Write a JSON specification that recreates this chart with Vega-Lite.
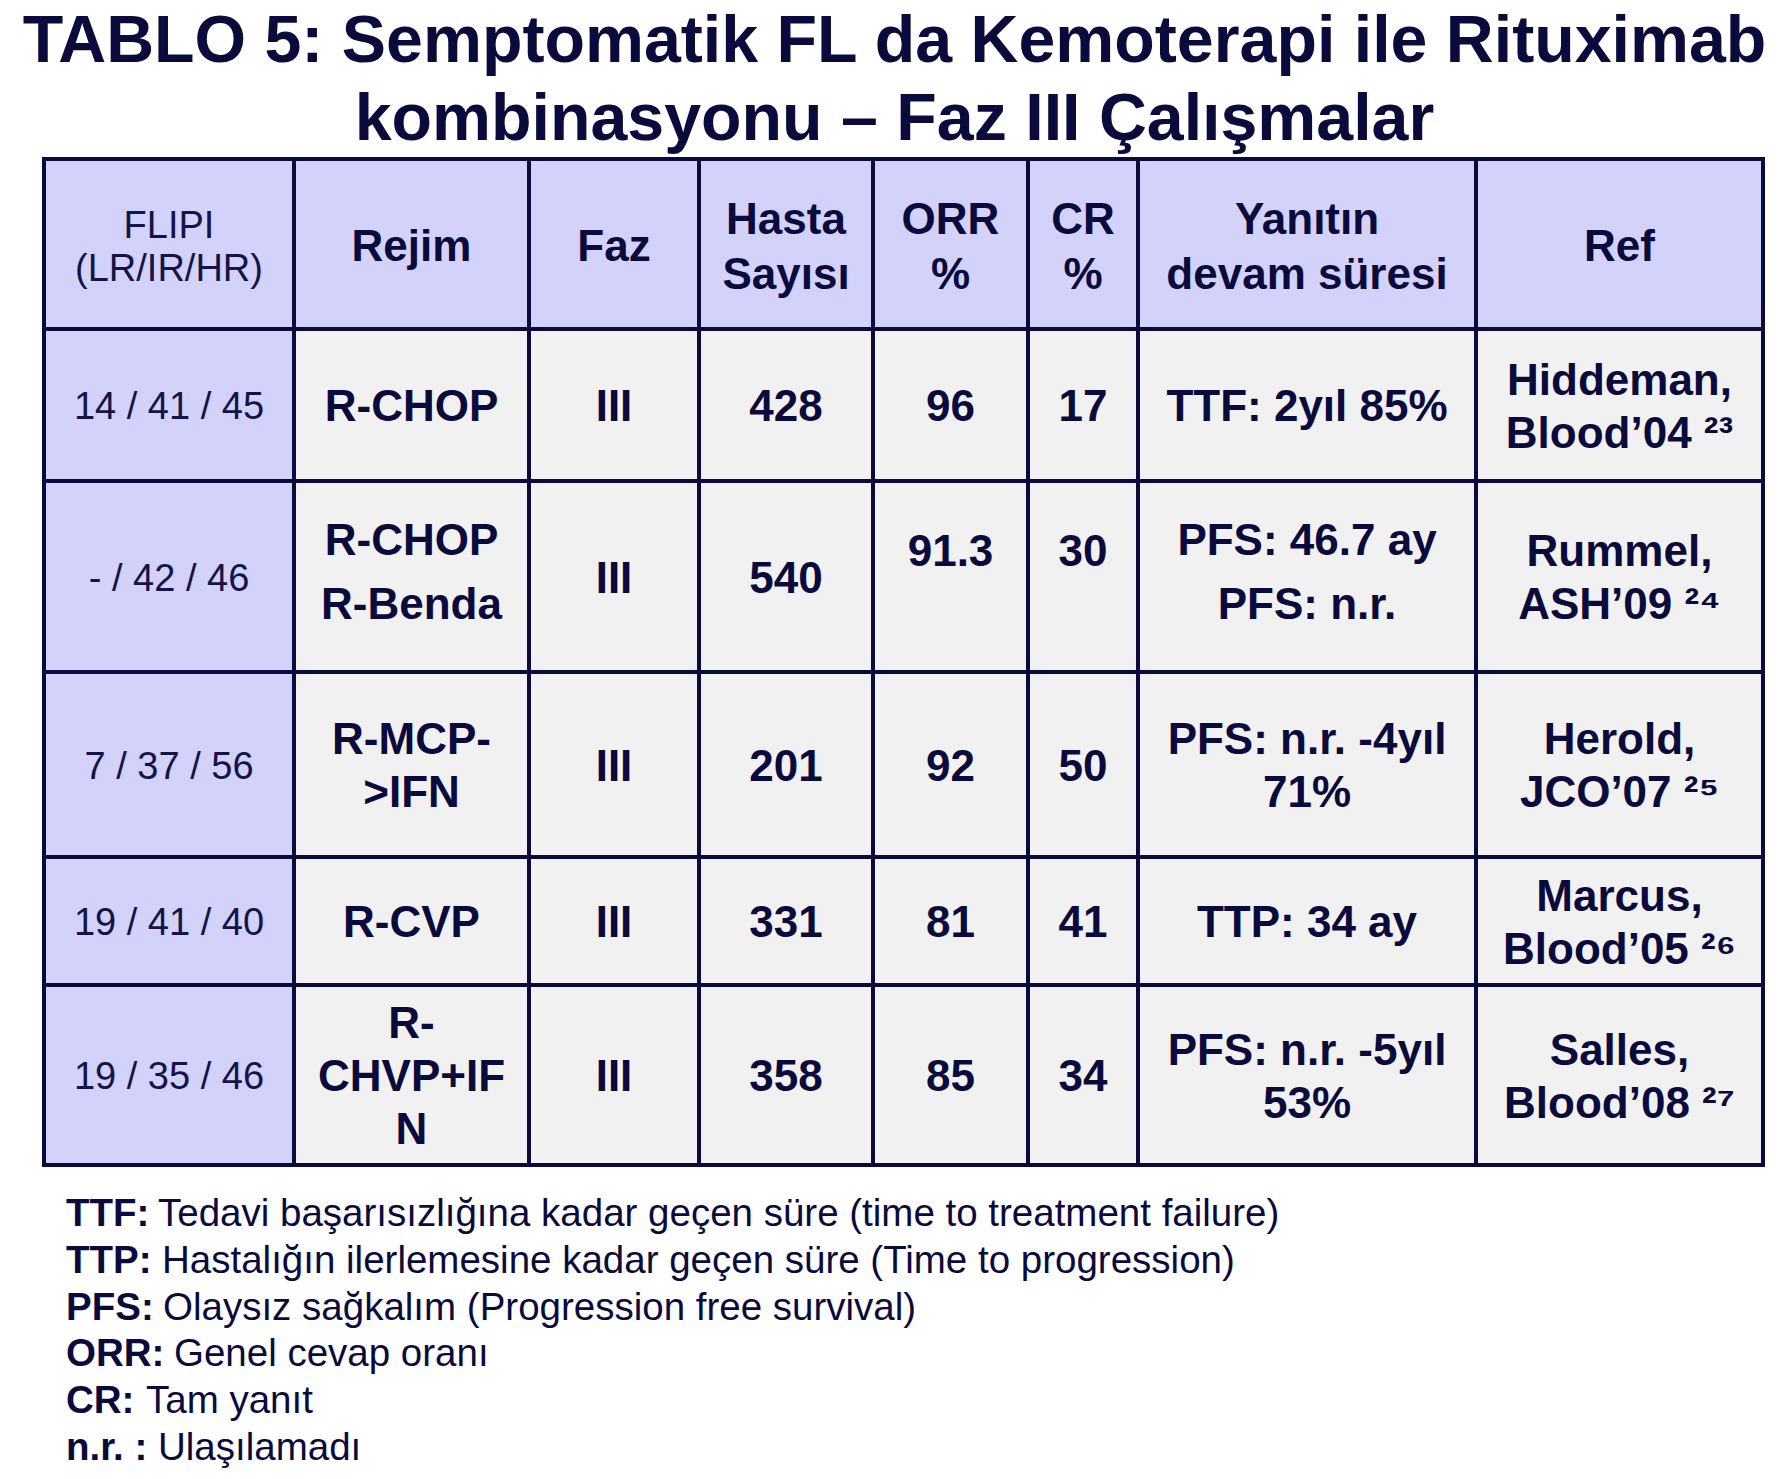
{
  "$schema": "https://vega.github.io/schema/vega-lite/v6.json",
  "width": 1719,
  "height": 1320,
  "autosize": {"type": "none"},
  "padding": {"top": 159, "left": 44, "right": 25, "bottom": 0},
  "background": "white",
  "title": {
    "text": ["TABLO 5: Semptomatik FL da Kemoterapi ile Rituximab", "kombinasyonu – Faz III Çalışmalar"],
    "font": "Liberation Sans",
    "fontSize": 66.3,
    "fontWeight": "bold",
    "color": "#0a0a3c",
    "lineHeight": 78,
    "anchor": "middle",
    "offset": 3,
    "dx": -9
  },
  "config": {"view": {"stroke": null}},
  "datasets": {
    "cols": [
      {"c": 0, "x0": 0, "x1": 250, "xm": 125},
      {"c": 1, "x0": 250, "x1": 485, "xm": 367.5},
      {"c": 2, "x0": 485, "x1": 655, "xm": 570},
      {"c": 3, "x0": 655, "x1": 829, "xm": 742},
      {"c": 4, "x0": 829, "x1": 984, "xm": 906.5},
      {"c": 5, "x0": 984, "x1": 1094, "xm": 1039},
      {"c": 6, "x0": 1094, "x1": 1432, "xm": 1263},
      {"c": 7, "x0": 1432, "x1": 1719, "xm": 1575.5}
    ],
    "rows": [
      {"r": 0, "y0": 0, "y1": 170, "ym": 86},
      {"r": 1, "y0": 170, "y1": 322, "ym": 246},
      {"r": 2, "y0": 322, "y1": 513, "ym": 417.5},
      {"r": 3, "y0": 513, "y1": 698, "ym": 605.5},
      {"r": 4, "y0": 698, "y1": 826, "ym": 762},
      {"r": 5, "y0": 826, "y1": 1006, "ym": 916}
    ],
    "cells": [
      {"r": 0, "c": 0, "text": ["FLIPI", "(LR/IR/HR)"]},
      {"r": 0, "c": 1, "text": "Rejim"},
      {"r": 0, "c": 2, "text": "Faz"},
      {"r": 0, "c": 3, "text": ["Hasta", "Sayısı"]},
      {"r": 0, "c": 4, "text": ["ORR", "%"]},
      {"r": 0, "c": 5, "text": ["CR", "%"]},
      {"r": 0, "c": 6, "text": ["Yanıtın", "devam süresi"]},
      {"r": 0, "c": 7, "text": "Ref"},
      {"r": 1, "c": 0, "text": "14 / 41 / 45"},
      {"r": 1, "c": 1, "text": "R-CHOP"},
      {"r": 1, "c": 2, "text": "III"},
      {"r": 1, "c": 3, "text": "428"},
      {"r": 1, "c": 4, "text": "96"},
      {"r": 1, "c": 5, "text": "17"},
      {"r": 1, "c": 6, "text": "TTF: 2yıl 85%"},
      {"r": 1, "c": 7, "text": ["Hiddeman,", "Blood’04 ²³"]},
      {"r": 2, "c": 0, "text": "- / 42 / 46"},
      {"r": 2, "c": 1, "text": ["R-CHOP", "R-Benda"]},
      {"r": 2, "c": 2, "text": "III"},
      {"r": 2, "c": 3, "text": "540"},
      {"r": 2, "c": 4, "text": ["91.3", ""]},
      {"r": 2, "c": 5, "text": ["30", ""]},
      {"r": 2, "c": 6, "text": ["PFS: 46.7 ay", "PFS: n.r."]},
      {"r": 2, "c": 7, "text": ["Rummel,", "ASH’09 ²⁴"]},
      {"r": 3, "c": 0, "text": "7 / 37 / 56"},
      {"r": 3, "c": 1, "text": ["R-MCP-", ">IFN"]},
      {"r": 3, "c": 2, "text": "III"},
      {"r": 3, "c": 3, "text": "201"},
      {"r": 3, "c": 4, "text": "92"},
      {"r": 3, "c": 5, "text": "50"},
      {"r": 3, "c": 6, "text": ["PFS: n.r. -4yıl", "71%"]},
      {"r": 3, "c": 7, "text": ["Herold,", "JCO’07 ²⁵"]},
      {"r": 4, "c": 0, "text": "19 / 41 / 40"},
      {"r": 4, "c": 1, "text": "R-CVP"},
      {"r": 4, "c": 2, "text": "III"},
      {"r": 4, "c": 3, "text": "331"},
      {"r": 4, "c": 4, "text": "81"},
      {"r": 4, "c": 5, "text": "41"},
      {"r": 4, "c": 6, "text": "TTP: 34 ay"},
      {"r": 4, "c": 7, "text": ["Marcus,", "Blood’05 ²⁶"]},
      {"r": 5, "c": 0, "text": "19 / 35 / 46"},
      {"r": 5, "c": 1, "text": ["R-", "CHVP+IF", "N"]},
      {"r": 5, "c": 2, "text": "III"},
      {"r": 5, "c": 3, "text": "358"},
      {"r": 5, "c": 4, "text": "85"},
      {"r": 5, "c": 5, "text": "34"},
      {"r": 5, "c": 6, "text": ["PFS: n.r. -5yıl", "53%"]},
      {"r": 5, "c": 7, "text": ["Salles,", "Blood’08 ²⁷"]}
    ],
    "notes": [
      {"key": "TTF:", "desc": "Tedavi başarısızlığına kadar geçen süre (time to treatment failure)", "kx": 22, "dx": 114, "y": 1067},
      {"key": "TTP:", "desc": "Hastalığın ilerlemesine kadar geçen süre (Time to progression)", "kx": 22, "dx": 118, "y": 1114},
      {"key": "PFS:", "desc": "Olaysız sağkalım (Progression free survival)", "kx": 22, "dx": 119, "y": 1161},
      {"key": "ORR:", "desc": "Genel cevap oranı", "kx": 22, "dx": 130, "y": 1207},
      {"key": "CR:", "desc": "Tam yanıt", "kx": 22, "dx": 102, "y": 1254},
      {"key": "n.r. :", "desc": "Ulaşılamadı", "kx": 22, "dx": 114, "y": 1301}
    ]
  },
  "layer": [
    {
      "data": {"name": "cells"},
      "transform": [
        {"lookup": "c", "from": {"data": {"name": "cols"}, "key": "c", "fields": ["x0", "x1", "xm"]}},
        {"lookup": "r", "from": {"data": {"name": "rows"}, "key": "r", "fields": ["y0", "y1", "ym"]}}
      ],
      "mark": {"type": "rect", "stroke": "#0a0a3c", "strokeWidth": 4},
      "encoding": {
        "x": {"field": "x0", "type": "quantitative", "scale": {"domain": [0, 1719], "nice": false, "zero": false}, "axis": null},
        "x2": {"field": "x1"},
        "y": {"field": "y0", "type": "quantitative", "scale": {"domain": [0, 1320], "nice": false, "zero": false, "reverse": true}, "axis": null},
        "y2": {"field": "y1"},
        "fill": {"condition": {"test": "datum.r == 0 || datum.c == 0", "value": "#d2d2fb"}, "value": "#f1f1f1"}
      }
    },
    {
      "data": {"name": "cells"},
      "transform": [
        {"filter": "datum.c == 0 && datum.r == 0"},
        {"lookup": "c", "from": {"data": {"name": "cols"}, "key": "c", "fields": ["xm"]}},
        {"lookup": "r", "from": {"data": {"name": "rows"}, "key": "r", "fields": ["ym"]}}
      ],
      "mark": {"type": "text", "align": "center", "baseline": "middle", "font": "Liberation Sans", "fontSize": 38, "fontWeight": "normal", "color": "#14144a", "lineHeight": 43, "dy": -18.5},
      "encoding": {
        "x": {"field": "xm", "type": "quantitative"},
        "y": {"field": "ym", "type": "quantitative"},
        "text": {"field": "text"}
      }
    },
    {
      "data": {"name": "cells"},
      "transform": [
        {"filter": "datum.c == 0 && datum.r > 0"},
        {"lookup": "c", "from": {"data": {"name": "cols"}, "key": "c", "fields": ["xm"]}},
        {"lookup": "r", "from": {"data": {"name": "rows"}, "key": "r", "fields": ["ym"]}}
      ],
      "mark": {"type": "text", "align": "center", "baseline": "middle", "font": "Liberation Sans", "fontSize": 38, "fontWeight": "normal", "color": "#14144a", "dy": 3},
      "encoding": {
        "x": {"field": "xm", "type": "quantitative"},
        "y": {"field": "ym", "type": "quantitative"},
        "text": {"field": "text"}
      }
    },
    {
      "data": {"name": "cells"},
      "transform": [
        {"filter": "datum.c > 0 && !(datum.r == 2 && (datum.c == 1 || datum.c == 6)) && !isArray(datum.text)"},
        {"lookup": "c", "from": {"data": {"name": "cols"}, "key": "c", "fields": ["xm"]}},
        {"lookup": "r", "from": {"data": {"name": "rows"}, "key": "r", "fields": ["ym"]}}
      ],
      "mark": {"type": "text", "align": "center", "baseline": "middle", "font": "Liberation Sans", "fontSize": 44, "fontWeight": "bold", "color": "#0a0a3c", "dy": 3},
      "encoding": {
        "x": {"field": "xm", "type": "quantitative"},
        "y": {"field": "ym", "type": "quantitative"},
        "text": {"field": "text"}
      }
    },
    {
      "data": {"name": "cells"},
      "transform": [
        {"filter": "datum.c > 0 && datum.r == 0 && isArray(datum.text)"},
        {"lookup": "c", "from": {"data": {"name": "cols"}, "key": "c", "fields": ["xm"]}},
        {"lookup": "r", "from": {"data": {"name": "rows"}, "key": "r", "fields": ["ym"]}}
      ],
      "mark": {"type": "text", "align": "center", "baseline": "middle", "font": "Liberation Sans", "fontSize": 44, "fontWeight": "bold", "color": "#0a0a3c", "lineHeight": 55, "dy": -24.5},
      "encoding": {
        "x": {"field": "xm", "type": "quantitative"},
        "y": {"field": "ym", "type": "quantitative"},
        "text": {"field": "text"}
      }
    },
    {
      "data": {"name": "cells"},
      "transform": [
        {"filter": "datum.c > 0 && datum.r > 0 && !(datum.r == 2 && (datum.c == 1 || datum.c == 6)) && isArray(datum.text) && length(datum.text) == 2"},
        {"lookup": "c", "from": {"data": {"name": "cols"}, "key": "c", "fields": ["xm"]}},
        {"lookup": "r", "from": {"data": {"name": "rows"}, "key": "r", "fields": ["ym"]}}
      ],
      "mark": {"type": "text", "align": "center", "baseline": "middle", "font": "Liberation Sans", "fontSize": 44, "fontWeight": "bold", "color": "#0a0a3c", "lineHeight": 53, "dy": -23.5},
      "encoding": {
        "x": {"field": "xm", "type": "quantitative"},
        "y": {"field": "ym", "type": "quantitative"},
        "text": {"field": "text"}
      }
    },
    {
      "data": {"name": "cells"},
      "transform": [
        {"filter": "datum.c > 0 && datum.r > 0 && isArray(datum.text) && length(datum.text) == 3"},
        {"lookup": "c", "from": {"data": {"name": "cols"}, "key": "c", "fields": ["xm"]}},
        {"lookup": "r", "from": {"data": {"name": "rows"}, "key": "r", "fields": ["ym"]}}
      ],
      "mark": {"type": "text", "align": "center", "baseline": "middle", "font": "Liberation Sans", "fontSize": 44, "fontWeight": "bold", "color": "#0a0a3c", "lineHeight": 53, "dy": -50},
      "encoding": {
        "x": {"field": "xm", "type": "quantitative"},
        "y": {"field": "ym", "type": "quantitative"},
        "text": {"field": "text"}
      }
    },
    {
      "data": {"name": "cells"},
      "transform": [
        {"filter": "datum.r == 2 && (datum.c == 1 || datum.c == 6)"},
        {"lookup": "c", "from": {"data": {"name": "cols"}, "key": "c", "fields": ["xm"]}},
        {"lookup": "r", "from": {"data": {"name": "rows"}, "key": "r", "fields": ["ym"]}}
      ],
      "mark": {"type": "text", "align": "center", "baseline": "middle", "font": "Liberation Sans", "fontSize": 44, "fontWeight": "bold", "color": "#0a0a3c", "lineHeight": 64, "dy": -35},
      "encoding": {
        "x": {"field": "xm", "type": "quantitative"},
        "y": {"field": "ym", "type": "quantitative"},
        "text": {"field": "text"}
      }
    },
    {
      "data": {"name": "notes"},
      "mark": {"type": "text", "align": "left", "baseline": "alphabetic", "font": "Liberation Sans", "fontSize": 38.5, "fontWeight": "bold", "color": "#0a0a3c"},
      "encoding": {
        "x": {"field": "kx", "type": "quantitative"},
        "y": {"field": "y", "type": "quantitative"},
        "text": {"field": "key"}
      }
    },
    {
      "data": {"name": "notes"},
      "mark": {"type": "text", "align": "left", "baseline": "alphabetic", "font": "Liberation Sans", "fontSize": 38.5, "fontWeight": "normal", "color": "#0a0a3c"},
      "encoding": {
        "x": {"field": "dx", "type": "quantitative"},
        "y": {"field": "y", "type": "quantitative"},
        "text": {"field": "desc"}
      }
    }
  ]
}
